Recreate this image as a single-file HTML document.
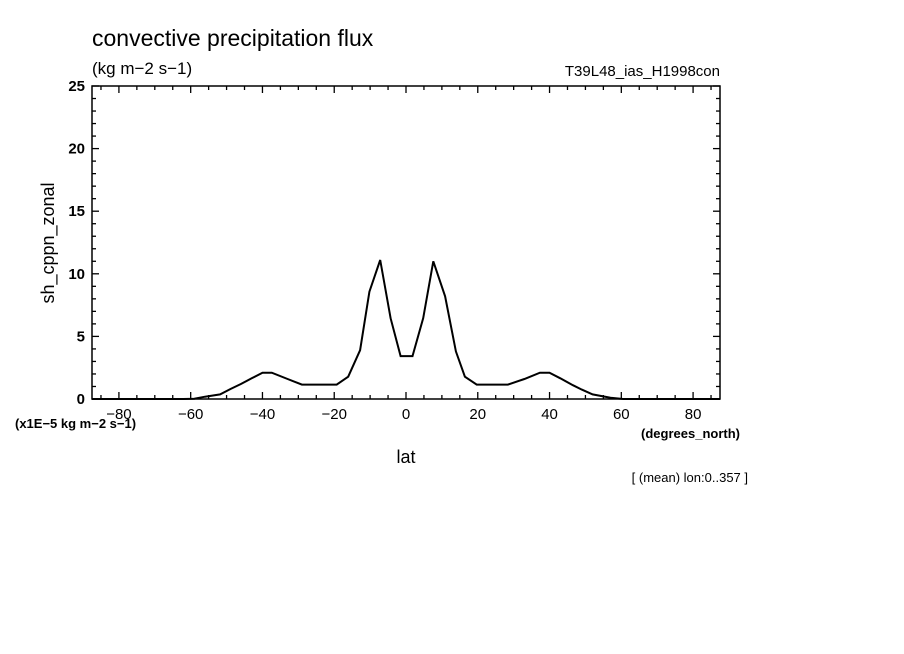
<!DOCTYPE html>
<html><head><meta charset="utf-8"><style>
body{margin:0;background:#fff}
svg{display:block}
text{font-family:"Liberation Sans",sans-serif;fill:#000}
</style></head><body>
<svg id="c" width="904" height="654" viewBox="0 0 904 654">
<text x="92" y="46" font-size="23">convective precipitation flux</text>
<text x="92" y="74" font-size="17">(kg m−2 s−1)</text>
<text x="720" y="76" font-size="15" text-anchor="end">T39L48_ias_H1998con</text>
<text transform="translate(54,243) rotate(-90)" font-size="18" text-anchor="middle">sh_cppn_zonal</text>
<text x="15" y="428" font-size="13" font-weight="bold">(x1E−5 kg m−2 s−1)</text>
<text x="406" y="463" font-size="18" text-anchor="middle">lat</text>
<text x="740" y="438" font-size="13" font-weight="bold" text-anchor="end">(degrees_north)</text>
<text x="748" y="482" font-size="13" text-anchor="end">[ (mean) lon:0..357 ]</text>
<g id="ax"></g>
</svg>
<script>
const lats=[-87.5,-80,-70,-62,-59,-56,-51.8,-48.9,-46,-43,-40,-37.4,-33,-29,-19.3,-16.1,-12.8,-10.2,-7.2,-4.3,-1.5,1.8,4.8,7.6,10.9,13.9,16.4,19.7,28.4,33,37.3,40,43,46.5,49,52,57,60.5,70,80,87.5];
const vals=[0,0,0,0,0.02,0.18,0.37,0.8,1.2,1.65,2.1,2.1,1.6,1.15,1.15,1.78,3.9,8.57,11.1,6.45,3.43,3.43,6.45,11.0,8.2,3.8,1.78,1.15,1.15,1.6,2.1,2.1,1.65,1.1,0.75,0.37,0.1,0,0,0,0];
const xTicks=[-80,-60,-40,-20,0,20,40,60,80];
const yTicks=[0,5,10,15,20,25];
const NS="http://www.w3.org/2000/svg";
const L=92,R=720,T=86,B=399,xmin=-87.5,xmax=87.5,ymin=0,ymax=25;
const X=v=>L+(v-xmin)/(xmax-xmin)*(R-L);
const Y=v=>B-(v-ymin)/(ymax-ymin)*(B-T);
const g=document.getElementById('ax');
function mk(t,a){const e=document.createElementNS(NS,t);for(const k in a)e.setAttribute(k,a[k]);g.appendChild(e);return e;}
const frame=mk('rect',{x:L,y:T,width:R-L,height:B-T,fill:'none',stroke:'#000','stroke-width':1.5});


for(let v=-85;v<=85;v+=5){const maj=v%20===0;const len=maj?7:4;
 const t1=mk('line',{x1:X(v),x2:X(v),y1:B,y2:B-len,stroke:'#000','stroke-width':1.3});
 
 
 const t2=mk('line',{x1:X(v),x2:X(v),y1:T,y2:T+len,stroke:'#000','stroke-width':1.3});
 
 }
for(let v=0;v<=25;v++){const maj=v%5===0;const len=maj?7:4;
 const t1=mk('line',{x1:L,x2:L+len,y1:Y(v),y2:Y(v),stroke:'#000','stroke-width':1.3});
 
 
 const t2=mk('line',{x1:R,x2:R-len,y1:Y(v),y2:Y(v),stroke:'#000','stroke-width':1.3});
 
 }
xTicks.forEach(v=>{const t=mk('text',{x:X(v),y:B+20,'font-size':15,'text-anchor':'middle'});t.textContent=(v<0?'−':'')+Math.abs(v);
 
 });
yTicks.forEach(v=>{const t=mk('text',{x:L-7,y:Y(v)+5,'font-size':15,'font-weight':'bold','text-anchor':'end'});t.textContent=v;
 
 });
const pts=lats.map((la,i)=>X(la).toFixed(1)+','+Y(vals[i]).toFixed(1)).join(' ');
const line=mk('polyline',{points:pts,fill:'none',stroke:'#000','stroke-width':2,'stroke-linejoin':'miter'});


</script>
</body></html>
